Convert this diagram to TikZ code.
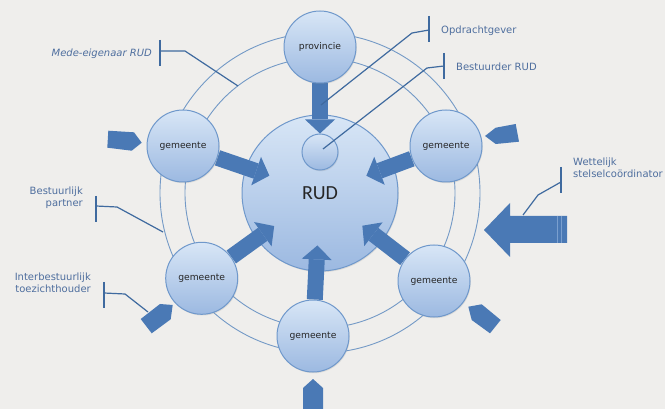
\documentclass[tikz,border=0pt]{standalone}
\usepackage{fontspec}
\setmainfont{DejaVu Sans}
\newfontfamily\rudfont{Carlito}
\usetikzlibrary{arrows.meta,shadows}

\definecolor{paper}{HTML}{EFEEEC}
\definecolor{ringline}{HTML}{7399C6}
\definecolor{ballEdge}{HTML}{6F98CB}
\definecolor{ballTop}{HTML}{D8E6F6}
\definecolor{ballBot}{HTML}{9CB9E1}
\definecolor{arrowBlue}{HTML}{4A79B5}
\definecolor{stripe}{HTML}{7A9FCF}
\definecolor{labelBlue}{HTML}{4E6E9E}
\definecolor{guide}{HTML}{3F6A9F}

\pgfdeclarelayer{paperlayer}
\pgfdeclarelayer{rings}
\pgfdeclarelayer{flows}
\pgfsetlayers{paperlayer,rings,flows,main}

\begin{document}
\begin{tikzpicture}[x=1pt,y=-1pt,
  ball/.style={circle, draw=ballEdge, line width=1pt, top color=ballTop,
    bottom color=ballBot, inner sep=0pt, text=black!85,
    drop shadow={shadow xshift=0.8pt, shadow yshift=-1.2pt, opacity=0.18},
    font=\fontsize{9.2}{11}\selectfont},
  member/.style={ball, minimum size=72pt},
  ring/.style={draw=ringline, line width=0.9pt},
  blockarr/.style={draw=arrowBlue, line width=16pt,
    -{Triangle[width=30pt,length=14pt,line width=0pt]}},
  plate/.style={fill=arrowBlue},
  lbl/.style={text=labelBlue, inner sep=0pt, font=\fontsize{10}{12}\selectfont},
  guideline/.style={draw=guide, line width=1.2pt},
  bar/.style={draw=guide, line width=1.6pt}
]
\useasboundingbox (0,0) rectangle (665,409);
\begin{pgfonlayer}{paperlayer}
  \fill[paper] (0,0) rectangle (665,409);
\end{pgfonlayer}

% centre of the scheme and the two rings around it
\begin{pgfonlayer}{rings}
  \draw[ring] (320,193) circle[radius=135pt];
  \draw[ring] (320,193) circle[radius=160pt];
  \node[ball, minimum size=156pt, font=\rudfont\fontsize{20}{24}\selectfont] (rud) at (320,193) {RUD};
  \node[ball, minimum size=36pt, drop shadow={opacity=0}] (core) at (320,152) {};
\end{pgfonlayer}

% members on the rings
\node[member] (prov) at (320,47) {provincie};
\node[member] (g1) at (183,146) {gemeente};
\node[member] (g2) at (446,146) {gemeente};
\node[member] (g3) at (201.7,278.3) {gemeente};
\node[member] (g4) at (434,281) {gemeente};
\node[member] (g5) at (313,336) {gemeente};

% flows towards the RUD
\begin{pgfonlayer}{flows}
  \draw[blockarr] (prov) -- (core);
  \draw[blockarr, shorten >=-25pt] (g1) -- (rud);
  \draw[blockarr, shorten >=-29pt] (g2) -- (rud);
  \draw[blockarr, shorten >=-22pt] (g3) -- (rud);
  \draw[blockarr, shorten >=-25pt] (g4) -- (rud);
  \draw[blockarr, shorten >=-26pt] (g5) -- (rud);
\end{pgfonlayer}

% small plates pointing at the members
\fill[plate] (108.3,130.7) -- (134,132.3) -- (141.7,142.7) -- (131.7,150.7) -- (107.3,147.7) -- cycle;
\fill[plate] (485,136) -- (495.7,127.7) -- (515.7,124) -- (519,141.7) -- (495.7,144) -- cycle;
\fill[plate] (172.7,305) -- (160,304) -- (140.7,319) -- (151.7,333.3) -- (170.7,319.3) -- cycle;
\fill[plate] (468.3,306.7) -- (481.7,304.3) -- (500.7,320) -- (490,333.3) -- (471.7,320) -- cycle;
\fill[plate] (313,379) -- (323,388) -- (323,415) -- (303,415) -- (303,388) -- cycle;

% large arrow from the right
\fill[arrowBlue] (484,230) -- (510,203) -- (510,216) -- (567,216) -- (567,243)
  -- (510,243) -- (510,257) -- cycle;
\draw[stripe, line width=0.9pt] (557,216) -- (557,243);
\draw[stripe, line width=0.9pt] (561,216) -- (561,243);

% labels
\node[lbl, anchor=base east, font=\fontsize{10}{12}\selectfont\itshape] (mede) at (152,57) {Mede-eigenaar RUD};
\node[lbl, anchor=base west] (opdr) at (441,34) {Opdrachtgever};
\node[lbl, anchor=base west] (best) at (456,71) {Bestuurder RUD};
\node[lbl, anchor=base west, align=left] (wett) at (573,178) {Wettelijk\\stelselcoördinator};
\node[lbl, anchor=base east, align=right] (partner) at (83,207) {Bestuurlijk\\partner};
\node[lbl, anchor=base east, align=right] (ibt) at (91,293) {Interbestuurlijk\\toezichthouder};

% bracketed leader lines
\coordinate (medeEnd) at (238,86);
\coordinate (opdrEnd) at (321,105);
\coordinate (bestEnd) at (323,149);
\coordinate (wettEnd) at (523,215);
\coordinate (partnerEnd) at (163,232);
\coordinate (ibtEnd) at (148,312);

\draw[bar] (160,40) -- (160,66);
\draw[guideline] (160,51) -- (185,51) -- (medeEnd);
\draw[bar] (429,16) -- (429,42);
\draw[guideline] (429,30) -- (412,33) -- (opdrEnd);
\draw[bar] (444,53) -- (444,79);
\draw[guideline] (444,66) -- (427,68) -- (bestEnd);
\draw[bar] (561,167) -- (561,193);
\draw[guideline] (561,182) -- (538,195) -- (wettEnd);
\draw[bar] (96,196) -- (96,222);
\draw[guideline] (96,206) -- (117,207) -- (partnerEnd);
\draw[bar] (104,282) -- (104,308);
\draw[guideline] (104,293) -- (125,294) -- (ibtEnd);
\end{tikzpicture}
\end{document}
